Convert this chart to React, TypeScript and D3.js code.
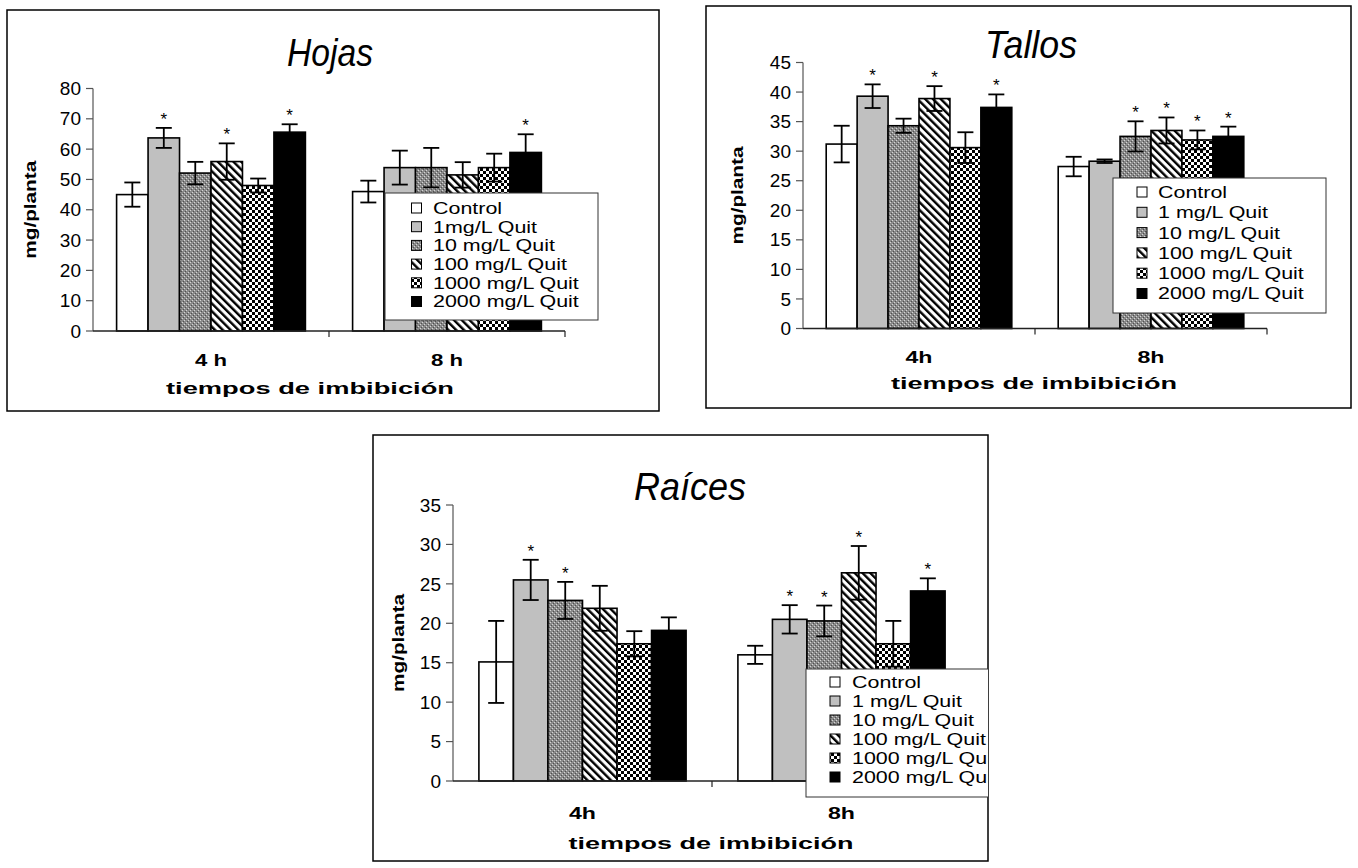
import React from "react";
import * as d3 from "d3";

// ---------- DATA ----------
const seriesHojas = ["Control", "1mg/L Quit", "10 mg/L Quit", "100 mg/L Quit", "1000 mg/L Quit", "2000 mg/L Quit"];
const seriesOther = ["Control", "1 mg/L Quit", "10 mg/L Quit", "100 mg/L Quit", "1000 mg/L Quit", "2000 mg/L Quit"];
const catHojas = ["4 h", "8 h"];
const catOther = ["4h", "8h"];

const hojas4h = [45, 63.7, 52.1, 55.9, 48, 65.6];
const hojasErr4h = [4, 3.3, 3.7, 6, 2.3, 2.6];
const hojasSig4h = [0, 1, 0, 1, 0, 1];
const hojas8h = [46, 53.9, 53.9, 51.5, 53.9, 58.9];
const hojasErr8h = [3.6, 5.6, 6.5, 4.2, 4.6, 6];
const hojasSig8h = [0, 0, 0, 0, 0, 1];
const hojasTicks = [0, 10, 20, 30, 40, 50, 60, 70, 80];

const tallos4h = [31.2, 39.3, 34.3, 38.9, 30.6, 37.4];
const tallosErr4h = [3.1, 2, 1.2, 2.1, 2.6, 2.2];
const tallosSig4h = [0, 1, 0, 1, 0, 1];
const tallos8h = [27.4, 28.3, 32.5, 33.5, 31.9, 32.5];
const tallosErr8h = [1.65, 0.3, 2.55, 2.2, 1.6, 1.65];
const tallosSig8h = [0, 0, 1, 1, 1, 1];
const tallosTicks = [0, 5, 10, 15, 20, 25, 30, 35, 40, 45];

const raices4h = [15.1, 25.5, 22.9, 21.9, 17.4, 19.1];
const raicesErr4h = [5.2, 2.55, 2.35, 2.85, 1.6, 1.65];
const raicesSig4h = [0, 1, 1, 0, 0, 0];
const raices8h = [16.0, 20.5, 20.3, 26.4, 17.4, 24.1];
const raicesErr8h = [1.15, 1.8, 1.95, 3.4, 2.9, 1.6];
const raicesSig8h = [0, 1, 1, 1, 0, 1];
const raicesTicks = [0, 5, 10, 15, 20, 25, 30, 35];

// ---------- STYLE ----------
const FILLS = ["#ffffff", "#c0c0c0", "url(#p10)", "url(#p100)", "url(#p1000)", "#000000"];
const FONT = "'Liberation Sans', Arial, Helvetica, sans-serif";

const panels = [
  {
    id: "hojas",
    title: "Hojas",
    titleX: 330, titleY: 66, titleW: 86,
    box: [7, 10, 659, 411],
    ax: { left: 93, right: 565, top: 88.5, bottom: 331 },
    yMax: 80, ticks: hojasTicks,
    cats: catHojas, catW: 32, catY: 360,
    xTitleX: 310, xTitleY: 388, xTitleW: 288,
    yLabelX: 30, yLabelW: 98,
    series: seriesHojas,
    vals: [hojas4h, hojas8h], errs: [hojasErr4h, hojasErr8h], sigs: [hojasSig4h, hojasSig8h],
    legend: { x: 385, y: 193, w: 213, h: 127, row0: 208, dy: 18.7, sx: 411.5, tx: 433 },
  },
  {
    id: "tallos",
    title: "Tallos",
    titleX: 1031, titleY: 58, titleW: 92,
    box: [706, 6, 1351, 408],
    ax: { left: 803, right: 1267, top: 62.5, bottom: 328.5 },
    yMax: 45, ticks: tallosTicks,
    cats: catOther, catW: 27, catY: 357,
    xTitleX: 1034, xTitleY: 383, xTitleW: 286,
    yLabelX: 737, yLabelW: 98,
    series: seriesOther,
    vals: [tallos4h, tallos8h], errs: [tallosErr4h, tallosErr8h], sigs: [tallosSig4h, tallosSig8h],
    legend: { x: 1113, y: 178, w: 213, h: 135, row0: 192, dy: 20.3, sx: 1137, tx: 1158 },
  },
  {
    id: "raices",
    title: "Raíces",
    titleX: 690, titleY: 500, titleW: 112,
    box: [373, 435, 988, 861],
    ax: { left: 453, right: 971, top: 505, bottom: 781 },
    yMax: 35, ticks: raicesTicks,
    cats: catOther, catW: 27, catY: 813,
    xTitleX: 711, xTitleY: 843, xTitleW: 285,
    yLabelX: 398, yLabelW: 98,
    series: seriesOther,
    vals: [raices4h, raices8h], errs: [raicesErr4h, raicesErr8h], sigs: [raicesSig4h, raicesSig8h],
    legend: { x: 806, y: 669, w: 200, h: 128, row0: 682, dy: 19, sx: 830, tx: 852 },
  },
];

function Panel({ cfg }: { cfg: any }) {
  const { ax } = cfg;
  const x0 = d3.scaleBand<string>().domain(cfg.cats).range([ax.left, ax.right]).paddingInner(0.2).paddingOuter(0.1);
  const x1 = d3.scaleBand<number>().domain(d3.range(6)).range([0, x0.bandwidth()]);
  const y = d3.scaleLinear().domain([0, cfg.yMax]).range([ax.bottom, ax.top]);
  const [bx0, by0, bx1, by1] = cfg.box;
  const step = (ax.right - ax.left) / cfg.cats.length;
  const boundaries = d3.range(cfg.cats.length + 1).map((i) => ax.left + i * step);
  const L = cfg.legend;
  return (
    <g>
      <defs>
        <clipPath id={`clip-${cfg.id}`}>
          <rect x={bx0} y={by0} width={bx1 - bx0} height={by1 - by0} />
        </clipPath>
      </defs>
      <rect x={bx0} y={by0} width={bx1 - bx0} height={by1 - by0} fill="#fff" stroke="#000" strokeWidth={1.5} />
      <text x={cfg.titleX} y={cfg.titleY} textAnchor="middle" fontFamily={FONT} fontStyle="italic"
        fontSize={38} textLength={cfg.titleW} lengthAdjust="spacingAndGlyphs">{cfg.title}</text>

      {/* y axis */}
      <line x1={ax.left} x2={ax.left} y1={ax.top} y2={ax.bottom} stroke="#555" strokeWidth={1.2} />
      {cfg.ticks.map((t: number) => (
        <g key={t}>
          <line x1={ax.left - 7} x2={ax.left} y1={y(t)} y2={y(t)} stroke="#555" strokeWidth={1.2} />
          <text x={ax.left - 12} y={y(t)} dy="0.35em" textAnchor="end" fontFamily={FONT} fontSize={19}>{t}</text>
        </g>
      ))}
      <text transform={`translate(${cfg.yLabelX},${(ax.top + ax.bottom) / 2}) rotate(-90)`} textAnchor="middle"
        dy="0.35em" fontFamily={FONT} fontWeight="bold" fontSize={16} textLength={cfg.yLabelW}
        lengthAdjust="spacingAndGlyphs">mg/planta</text>

      {/* bars */}
      {cfg.cats.map((c: string, ci: number) => (
        <g key={c}>
          {cfg.vals[ci].map((v: number, si: number) => {
            const bx = (x0(c) as number) + (x1(si) as number);
            const bw = x1.bandwidth();
            const cx = bx + bw / 2;
            const e = cfg.errs[ci][si];
            const yt = y(v + e);
            const yb = y(v - e);
            return (
              <g key={si}>
                <rect x={bx} y={y(v)} width={bw} height={y(0) - y(v)} fill={FILLS[si]} stroke="#000" strokeWidth={1.6} />
                <line x1={cx} x2={cx} y1={yt} y2={yb} stroke="#000" strokeWidth={1.8} />
                <line x1={cx - 8} x2={cx + 8} y1={yt} y2={yt} stroke="#000" strokeWidth={1.8} />
                <line x1={cx - 8} x2={cx + 8} y1={yb} y2={yb} stroke="#000" strokeWidth={1.8} />
                {cfg.sigs[ci][si] ? (
                  <text x={cx} y={yt - 3} textAnchor="middle" fontFamily={FONT} fontSize={17}>*</text>
                ) : null}
              </g>
            );
          })}
        </g>
      ))}

      {/* x axis */}
      <line x1={ax.left} x2={ax.right} y1={ax.bottom} y2={ax.bottom} stroke="#222" strokeWidth={1.5} />
      {boundaries.slice(1).map((b: number, i: number) => (
        <line key={i} x1={b} x2={b} y1={ax.bottom} y2={ax.bottom + 6} stroke="#222" strokeWidth={1.2} />
      ))}
      {cfg.cats.map((c: string) => (
        <text key={c} x={(x0(c) as number) + x0.bandwidth() / 2} y={cfg.catY} dy="0.35em" textAnchor="middle"
          fontFamily={FONT} fontWeight="bold" fontSize={17} textLength={cfg.catW} lengthAdjust="spacingAndGlyphs">{c}</text>
      ))}
      <text x={cfg.xTitleX} y={cfg.xTitleY} dy="0.35em" textAnchor="middle" fontFamily={FONT} fontWeight="bold"
        fontSize={17} textLength={cfg.xTitleW} lengthAdjust="spacingAndGlyphs">tiempos de imbibición</text>

      {/* legend */}
      <g clipPath={`url(#clip-${cfg.id})`}>
        <rect x={L.x} y={L.y} width={L.w} height={L.h} fill="#fff" stroke="#333" strokeWidth={1} />
        {cfg.series.map((s: string, i: number) => (
          <g key={s}>
            <rect x={L.sx} y={L.row0 + i * L.dy - 5} width={10} height={10} fill={FILLS[i]} stroke="#000" strokeWidth={1} />
            <text transform={`translate(${L.tx},${L.row0 + i * L.dy}) scale(1.3,1)`} dy="0.36em"
              fontFamily={FONT} fontSize={16.5}>{s}</text>
          </g>
        ))}
      </g>
    </g>
  );
}

export default function App() {
  return (
    <svg width={1358} height={868} style={{ position: "absolute", left: 0, top: 0, background: "#fff" }}>
      <defs>
        <pattern id="p10" width={4} height={4} patternUnits="userSpaceOnUse">
          <rect width={4} height={4} fill="#8a8a8a" />
          <rect x={0} y={0} width={1} height={1} fill="#d4d4d4" />
          <rect x={2} y={2} width={1} height={1} fill="#d4d4d4" />
          <rect x={1} y={3} width={1} height={1} fill="#505050" />
          <rect x={3} y={1} width={1} height={1} fill="#505050" />
        </pattern>
        <pattern id="p100" width={5.5} height={5.5} patternUnits="userSpaceOnUse" patternTransform="rotate(-45)">
          <rect width={5.5} height={5.5} fill="#fff" />
          <rect x={0} y={0} width={2.4} height={5.5} fill="#000" />
        </pattern>
        <pattern id="p1000" width={6} height={6} patternUnits="userSpaceOnUse">
          <rect width={6} height={6} fill="#fff" />
          <rect x={0} y={0} width={3} height={3} fill="#000" />
          <rect x={3} y={3} width={3} height={3} fill="#000" />
        </pattern>
      </defs>
      {panels.map((p) => (
        <Panel key={p.id} cfg={p} />
      ))}
    </svg>
  );
}
